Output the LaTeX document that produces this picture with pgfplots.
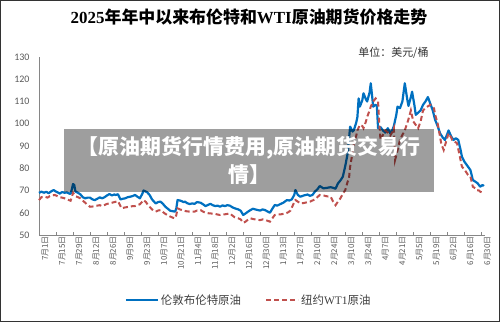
\documentclass[border=0pt]{standalone}
\usepackage{pgfplots}
\pgfplotsset{compat=1.18}
\usepackage{fontspec}
\setmainfont{Liberation Serif}
\newfontfamily\cjk{Noto Sans CJK SC}
\newfontfamily\carlito{Carlito}
\definecolor{bluel}{RGB}{0,112,192}
\definecolor{redl}{RGB}{192,80,77}
\definecolor{axgray}{RGB}{134,134,134}
\definecolor{txtgray}{RGB}{89,89,89}
\begin{document}
\begin{tikzpicture}[x=1bp,y=1bp]
\useasboundingbox (0,0) rectangle (500,322);
\draw[line width=1bp, black!80] (0.5,0.5) rectangle (499.5,321.5);
\node[font=\fontsize{17}{20}\selectfont\bfseries] at (249,305) {2025{\cjk\bfseries 年年中以来布伦特和}WTI{\cjk\bfseries 原油期货价格走势}};
\node[anchor=east, font=\cjk\fontsize{11}{13}\selectfont, text=black!80] at (432,269) {单位：美元/桶};
\begin{axis}[
  at={(39bp,87bp)}, anchor=south west, scale only axis,
  width=446bp, height=178bp,
  xmin=0, xmax=367, ymin=50, ymax=130,
  axis x line=bottom, axis y line=left,
  axis line style={-, draw=axgray, line width=0.8bp},
  xtick={0,14,...,364},
  xticklabels={7月1日,7月15日,7月29日,8月12日,8月26日,9月9日,9月23日,10月7日,10月21日,11月4日,11月18日,12月2日,12月16日,12月30日,1月13日,1月27日,2月10日,2月24日,3月10日,3月24日,4月7日,4月21日,5月5日,5月19日,6月2日,6月16日,6月30日},
  ytick={50,60,...,130},
  ytick style={draw=none},
  xtick style={draw=axgray, line width=0.6bp},
  major tick length=3bp, tick align=inside,
  xticklabel style={rotate=90, anchor=east, font=\cjk\fontsize{8}{9}\selectfont, text=txtgray, inner sep=1bp, yshift=-6bp},
  yticklabel style={font=\carlito\fontsize{10}{12}\selectfont, text=txtgray, xshift=-6bp},
  /pgf/number format/assume math mode=true,
  legend style={at={(0.47,-0.365)}, anchor=center, draw=none, fill=none, legend columns=2,
    font=\cjk\fontsize{11.5}{13}\selectfont, text=black!75,
    /tikz/every even column/.append style={column sep=22bp}},
  legend image code/.code={\draw[#1] (0bp,0bp) -- (32bp,0bp);},
  clip=false,
]
\addplot[color=bluel, line width=2.2bp, line join=round] coordinates {
(0,68.9)(2,69.5)(4,69.0)(6,69.4)(8,68.8)(10,69.6)(12,70.2)(14,69.5)(16,69.0)(17,68.6)(19,69.3)(21,69.0)(23,69.1)(25,68.6)(26,68.5)(27,70.5)(28,72.9)(29,72.5)(30,69.5)(32,69.0)(34,68.3)(36,67.0)(38,66.5)(40,66.8)(42,66.8)(44,66.0)(46,65.7)(48,66.3)(50,66.9)(52,66.5)(54,67.0)(56,67.8)(58,68.4)(60,67.8)(62,68.2)(63,68.0)(65,68.3)(67,66.0)(69,66.3)(71,66.5)(73,67.0)(75,67.2)(77,67.5)(79,68.0)(81,67.2)(83,66.5)(85,68.5)(86,70.0)(88,69.5)(89,69.2)(91,68.0)(93,66.0)(96,64.2)(98,64.8)(100,65.0)(102,64.0)(104,62.7)(106,61.8)(108,60.9)(110,60.7)(112,60.5)(113,62.0)(114,65.7)(116,65.5)(117,65.3)(119,64.8)(120,65.0)(122,64.3)(124,63.9)(126,64.2)(128,64.0)(130,64.8)(133,64.5)(135,63.8)(137,63.0)(139,63.5)(141,64.0)(143,63.4)(145,63.0)(147,63.2)(149,62.7)(151,63.3)(153,63.0)(155,63.4)(157,63.2)(159,62.5)(161,62.0)(164,61.5)(166,60.9)(168,59.0)(170,59.7)(172,60.5)(174,61.2)(176,61.8)(178,61.5)(180,61.2)(182,61.0)(184,61.5)(186,61.2)(188,60.6)(190,60.0)(192,61.8)(194,63.5)(196,63.2)(199,64.0)(201,64.5)(204,65.7)(206,65.5)(208,66.0)(210,68.0)(211,70.2)(213,68.0)(215,67.2)(218,67.8)(221,68.2)(223,67.6)(225,68.0)(227,69.5)(229,70.5)(231,72.0)(234,71.0)(237,71.2)(240,71.5)(242,71.2)(244,70.8)(246,73.2)(248,74.5)(250,76.2)(252,81.0)(254,86.7)(256,98.7)(258,96.5)(259,97.0)(261,100.5)(262,103.0)(263,111.4)(264,107.7)(266,110.5)(267,113.7)(269,111.0)(270,110.0)(272,114.0)(273,118.2)(275,107.7)(277,108.5)(278,108.0)(279,98.0)(281,98.5)(283,97.0)(285,96.0)(287,98.0)(289,95.7)(291,97.5)(292,99.0)(294,104.0)(295,107.7)(297,107.0)(299,110.0)(301,118.2)(303,111.0)(304,108.0)(306,112.0)(307,114.4)(309,108.0)(310,104.0)(312,105.0)(314,106.0)(316,108.5)(318,110.0)(320,112.0)(322,109.0)(324,106.0)(326,101.7)(328,99.0)(330,95.7)(332,94.0)(334,92.7)(336,95.5)(337,97.0)(339,94.5)(341,92.7)(343,93.5)(345,92.7)(347,88.0)(348,85.2)(350,83.0)(353,80.7)(355,79.2)(357,74.7)(359,74.0)(361,73.2)(363,71.7)(365,72.5)(366,72.0)
};
\addplot[color=redl, line width=2bp, dash pattern=on 5bp off 3bp] coordinates {
(0,65.7)(2,67.0)(5,67.2)(7,66.8)(9,67.5)(11,67.8)(13,68.0)(15,67.5)(17,67.0)(19,66.8)(21,66.5)(23,66.0)(26,65.4)(27,67.0)(28,69.0)(30,67.5)(32,67.0)(34,66.5)(36,65.5)(38,64.5)(40,63.5)(42,62.7)(44,62.8)(46,63.0)(48,63.2)(50,63.4)(52,63.0)(54,63.5)(56,64.0)(58,64.2)(60,64.5)(62,64.8)(65,65.2)(67,63.0)(68,62.0)(70,62.3)(72,62.5)(74,62.7)(75,62.7)(77,63.0)(79,63.0)(81,63.5)(83,63.8)(85,65.0)(86,65.7)(88,64.8)(89,64.0)(91,62.7)(93,61.5)(96,60.5)(98,61.0)(100,61.2)(102,60.3)(104,59.5)(106,58.8)(108,58.3)(110,57.8)(112,57.5)(113,59.0)(114,62.0)(116,61.5)(119,61.0)(121,60.7)(124,60.5)(126,60.5)(128,60.5)(130,61.0)(133,61.2)(135,60.5)(137,60.0)(139,59.8)(141,59.7)(143,59.6)(145,59.5)(147,59.2)(149,59.0)(151,59.2)(153,59.3)(155,59.5)(157,59.7)(159,58.8)(161,58.0)(164,57.5)(166,57.0)(168,55.5)(170,56.0)(171,56.5)(174,57.5)(176,57.2)(178,57.0)(180,56.8)(182,56.7)(184,57.0)(186,56.8)(188,56.4)(190,56.0)(192,57.5)(194,59.0)(196,59.2)(199,59.3)(201,59.5)(203,59.7)(205,60.2)(207,61.0)(209,63.5)(211,65.7)(213,65.0)(215,64.2)(217,64.3)(219,64.5)(221,64.8)(223,65.0)(225,65.5)(227,66.0)(229,67.0)(231,68.0)(234,67.8)(236,67.5)(238,67.3)(240,67.2)(242,65.0)(244,63.4)(246,65.0)(248,66.5)(250,68.5)(252,70.2)(254,74.0)(255,75.0)(256,80.7)(258,87.0)(259,91.2)(261,94.5)(262,97.0)(264,99.5)(266,99.0)(267,98.0)(269,101.0)(270,103.0)(272,106.0)(273,107.7)(275,110.0)(277,111.4)(279,110.0)(280,100.0)(281,92.7)(283,95.0)(285,97.0)(287,96.0)(289,94.7)(291,96.5)(292,98.0)(293,83.7)(295,88.0)(297,92.7)(299,95.0)(301,97.0)(304,102.0)(306,106.0)(308,101.0)(310,99.5)(312,98.0)(314,101.0)(316,106.0)(319,107.5)(322,108.5)(325,107.0)(326,104.0)(328,100.2)(330,94.2)(331,91.0)(333,88.2)(335,92.0)(337,95.7)(339,94.0)(340,92.7)(342,92.0)(344,91.2)(346,86.0)(348,80.7)(350,79.5)(353,77.0)(355,76.2)(357,71.7)(359,71.0)(360,70.2)(362,70.0)(363,69.5)(365,69.0)(366,68.8)
};
\legend{伦敦布伦特原油, 纽约{\rmfamily WT1}原油}
\end{axis}
\fill[black, fill opacity=0.38] (64,130) rectangle (434,193);
\node[text=white, font=\cjk\bfseries\fontsize{21}{24}\selectfont] at (249,174) {【原油期货行情费用,原油期货交易行};
\node[text=white, font=\cjk\bfseries\fontsize{21}{24}\selectfont] at (249,147) {情】};
\end{tikzpicture}
\end{document}
